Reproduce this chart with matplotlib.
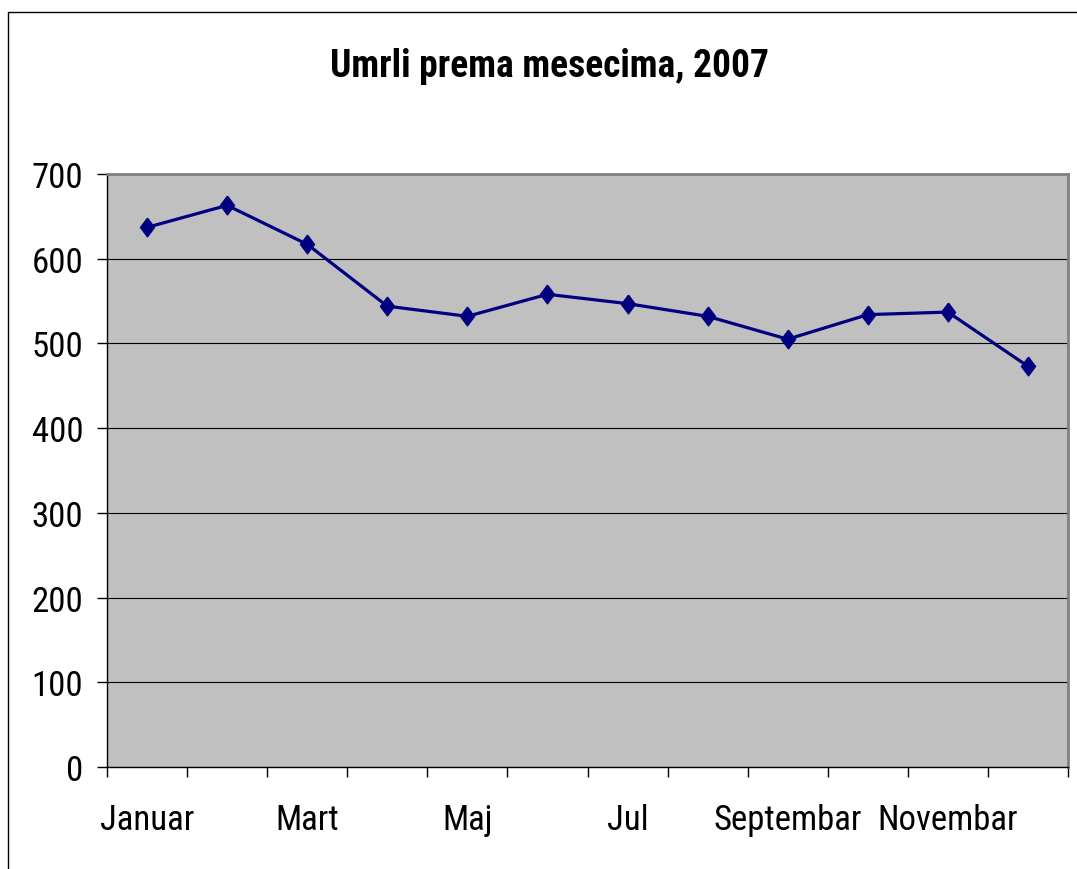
import matplotlib
matplotlib.use("Agg")
import matplotlib.pyplot as plt
from matplotlib.lines import Line2D

# Data
months = ["Januar", "Februar", "Mart", "April", "Maj", "Jun",
          "Jul", "Avgust", "Septembar", "Oktobar", "Novembar", "Decembar"]
deaths = [637, 663, 617, 544, 532, 558, 547, 532, 505, 534, 537, 473]
y_ticks = [0, 100, 200, 300, 400, 500, 600, 700]

plt.rcParams['font.family'] = ['Roboto Condensed', 'Liberation Sans', 'DejaVu Sans']

fig = plt.figure(figsize=(10.77, 8.70), dpi=100)
ax = fig.add_axes([107 / 1077, 1 - 768 / 870, (1068 - 107) / 1077, (768 - 175) / 870])

ax.set_facecolor('#C0C0C0')
for side in ['top', 'right']:
    ax.spines[side].set_color('#808080')
    ax.spines[side].set_linewidth(2)
for side in ['left', 'bottom']:
    ax.spines[side].set_color('black')
    ax.spines[side].set_linewidth(1)

x = list(range(len(months)))
diamond = [(0, 1), (0.75, 0), (0, -1), (-0.75, 0), (0, 1)]
ax.plot(x, deaths, color='#000080', linewidth=2.3, marker=diamond,
        markersize=13.5, markerfacecolor='#000080', markeredgecolor='#000080',
        zorder=3)

ax.set_xlim(-0.5, len(months) - 0.5)
ax.set_ylim(0, 700)
ax.set_yticks(y_ticks)
ax.yaxis.grid(True, color='black', linewidth=0.8)
ax.set_axisbelow(True)
ax.tick_params(axis='y', direction='out', length=7, width=1, pad=10, labelsize=25)

# category labels on every other month, tick marks between categories
ax.set_xticks(x[::2])
ax.set_xticklabels(months[::2])
ax.set_xticks([i - 0.5 for i in range(len(months) + 1)], minor=True)
ax.tick_params(axis='x', which='major', length=0, pad=26, labelsize=25)
ax.tick_params(axis='x', which='minor', direction='out', length=7, width=1)

fig.text(550 / 1077, 1 - 77 / 870, "Umrli prema mesecima, 2007",
         ha='center', va='baseline', fontsize=27, fontweight='bold')

# outer chart frame (left and top edges)
fig.add_artist(Line2D([8 / 1077, 8 / 1077, 1.0], [0.0, 1 - 13 / 870, 1 - 13 / 870],
                      transform=fig.transFigure, color='black', linewidth=1))

plt.savefig('out.png', dpi=100)
